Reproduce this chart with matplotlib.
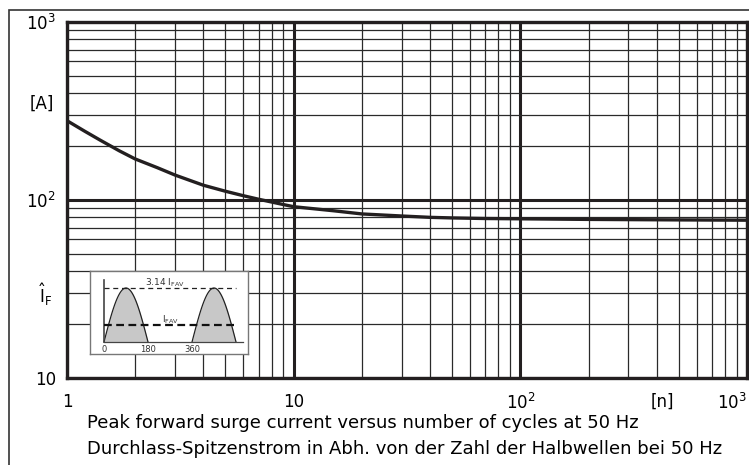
import numpy as np
import matplotlib
matplotlib.use("Agg")
import matplotlib.pyplot as plt
from matplotlib.patches import Rectangle
from matplotlib.ticker import LogLocator, NullFormatter

plt.rcParams['font.family'] = ['DejaVu Sans']
plt.rcParams['mathtext.default'] = 'regular'

# surge current curve
cycles = [1, 1.2, 1.4, 1.7, 2, 2.5, 3, 4, 5, 6, 7, 8, 9, 10, 15, 20, 30, 40, 50, 70,
          100, 200, 500, 1000]
i_peak = [279, 243, 217, 189, 170, 152, 138, 121, 112, 105.7, 101, 97.4, 94.3, 91.7, 87,
          83.5, 81.3, 79.9, 79.3, 78.7, 78.4, 77.8, 77.3, 77]

x_ticks = [1, 10, 100, 1000]
x_labels = ['1', '10', '$10^2$', '$10^3$']
y_ticks = [10, 100, 1000]
y_labels = ['10', '$10^2$', '$10^3$']

caption = ["Peak forward surge current versus number of cycles at 50 Hz",
           "Durchlass-Spitzenstrom in Abh. von der Zahl der Halbwellen bei 50 Hz"]

# inset sketch: phase in degrees
phase_ticks = [0, 180, 360]
fav_ratio = 3.14

W, H = 749, 465
fig = plt.figure(figsize=(W / 100, H / 100), dpi=100)

def px(x0, y0, x1, y1):
    return [x0 / W, 1 - y1 / H, (x1 - x0) / W, (y1 - y0) / H]

ax = fig.add_axes(px(67, 22, 747, 378))
ax.set_xscale('log')
ax.set_yscale('log')
ax.set_xlim(1, 1000)
ax.set_ylim(10, 1000)

ax.xaxis.set_minor_locator(LogLocator(base=10, subs=np.arange(2, 10)))
ax.yaxis.set_minor_locator(LogLocator(base=10, subs=np.arange(2, 10)))
ax.xaxis.set_minor_formatter(NullFormatter())
ax.yaxis.set_minor_formatter(NullFormatter())
ax.set_xticks(x_ticks)
ax.set_xticklabels(x_labels)
ax.set_yticks(y_ticks)
ax.set_yticklabels(y_labels)
ax.tick_params(which='both', length=0)
ax.tick_params(axis='x', pad=11, labelsize=12)
ax.tick_params(axis='y', pad=8, labelsize=12)
ax.get_xticklabels()[-1].set_ha('right')

ax.grid(which='minor', color='#2a2a2a', lw=0.9)
ax.grid(which='major', color='#231f20', lw=2.2)
for s in ax.spines.values():
    s.set_linewidth(2.4)
    s.set_color('#231f20')

ax.plot(cycles, i_peak, color='#231f20', lw=2.4, solid_capstyle='butt', zorder=5)

ax.text(-0.037, 0.77, '[A]', transform=ax.transAxes, ha='center', va='center', fontsize=12)
ax.text(-0.032, 0.235, r'$\hat{I}_F$', transform=ax.transAxes, ha='center', va='center',
        fontsize=12)
ax.text(0.876, -0.068, '[n]', transform=ax.transAxes, ha='center', va='center', fontsize=12)

for k, line in enumerate(caption):
    fig.text(87 / W, 1 - (423 + 26 * k) / H, line, ha='left', va='center', fontsize=13)

# outer frame
fig.patches.append(Rectangle((9 / W, -0.1), 1.2, 1 - 10 / H + 0.1, transform=fig.transFigure,
                             fill=False, ec='#333333', lw=1.2))

# inset with the half wave sketch
ins = fig.add_axes(px(90, 271, 248, 354))
ins.set_xlim(-57.3, 589)
ins.set_ylim(-0.222, 1.315)
ins.set_xticks([])
ins.set_yticks([])
for s in ins.spines.values():
    s.set_color('#777777')
    s.set_linewidth(1.0)
ins.set_facecolor('white')
ins.set_zorder(6)

th = np.linspace(0, 180, 60)
for start in [0, 360]:
    ins.fill_between(th + start, 0, np.sin(np.radians(th)), color='#c8c8c8', lw=0)
    ins.plot(th + start, np.sin(np.radians(th)), color='#222222', lw=0.9)
ins.plot([0, 569], [0, 0], color='#444444', lw=0.9)
ins.plot([0, 0], [0, 1.148], color='#444444', lw=1.2)
ins.plot([0, 540], [1, 1], color='#222222', lw=0.9, ls=(0, (4, 3)))
ins.plot([0, 540], [1 / fav_ratio, 1 / fav_ratio], color='#111111', lw=1.6, ls=(0, (3.5, 2)))
ins.text(250, 1.09, '3.14 I$_{FAV}$', ha='center', va='center', fontsize=6.5, color='#333333')
ins.text(270, 0.42, 'I$_{FAV}$', ha='center', va='center', fontsize=6.5, color='#333333')
for p in phase_ticks:
    ins.text(p, -0.13, str(p), ha='center', va='center', fontsize=6, color='#333333')

fig.savefig('out.png', dpi=100)
